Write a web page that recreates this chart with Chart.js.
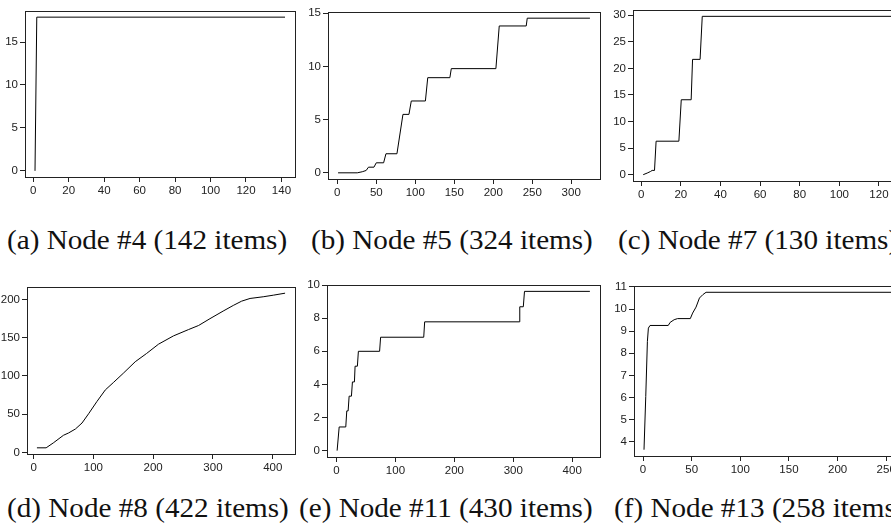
<!DOCTYPE html>
<html>
<head>
<meta charset="utf-8">
<script src="https://cdn.jsdelivr.net/npm/chart.js@4/dist/chart.umd.min.js"></script>
<style>
  html, body { margin: 0; padding: 0; background: #fff; }
  body { width: 891px; height: 525px; overflow: hidden; position: relative; }
  canvas { position: absolute; }
  .cap { position: absolute; font-family: 'Liberation Serif', 'Times New Roman', serif; font-size: 27px; line-height: 27px; color: #111; white-space: nowrap; transform: scaleX(1.08); transform-origin: 0 50%; }
</style>
</head>
<body>
<div class="cap" style="left:7px; top:227px">(a) Node #4 (142 items)</div>
<div class="cap" style="left:311px; top:227px">(b) Node #5 (324 items)</div>
<div class="cap" style="left:618px; top:227px">(c) Node #7 (130 items)</div>
<div class="cap" style="left:7px; top:495px">(d) Node #8 (422 items)</div>
<div class="cap" style="left:299px; top:495px">(e) Node #11 (430 items)</div>
<div class="cap" style="left:614px; top:495px">(f) Node #13 (258 items)</div>
<script>
// (a) Node #4
const aX = [1, 2, 142];
const aY = [0, 17.9, 17.9];

// (b) Node #5
const bX = [1, 25.6, 32, 37, 40, 47, 50, 59.4, 62.4, 76.5, 84.2, 91.9, 94.9, 113, 116, 144.4, 146.2, 203.4, 207.7, 242.3, 243.6, 324];
const bY = [0, 0, 0.1, 0.22, 0.53, 0.53, 0.94, 0.94, 1.79, 1.79, 5.49, 5.49, 6.75, 6.75, 8.94, 8.94, 9.79, 9.79, 13.8, 13.8, 14.53, 14.53];

// (c) Node #7
const cX = [1, 3, 4.7, 5.5, 6.7, 7.5, 19, 20.2, 25.2, 25.9, 29.7, 30.8, 130];
const cY = [0, 0.3, 0.6, 0.8, 0.8, 6.3, 6.3, 14.1, 14.1, 21.7, 21.7, 29.8, 29.8];

// (d) Node #8
const dX = [5.6, 21, 33, 50, 58.5, 70, 81, 92, 106, 120, 134, 150, 170, 189, 209, 234, 259, 276, 295, 317, 334, 348, 362, 384, 401, 420.6];
const dY = [6.1, 6.1, 12.5, 22.5, 25.5, 30.7, 38.5, 50.6, 66.7, 81.8, 91.8, 103.5, 118.6, 129.4, 141.6, 152.4, 160.6, 166, 174.9, 184.8, 192.2, 197.8, 201.3, 203.5, 205.6, 208.2];

// (e) Node #11
const eX = [1, 4.5, 15.7, 17.4, 19.7, 21.4, 25.3, 27, 30.4, 31.5, 35.4, 37.1, 73.1, 74.8, 148, 149.6, 310, 311, 317, 319, 430];
const eY = [0, 1.43, 1.43, 2.4, 2.4, 3.29, 3.29, 4.15, 4.15, 5.1, 5.1, 6.0, 6.0, 6.85, 6.85, 7.78, 7.78, 8.69, 8.69, 9.62, 9.62];

// (f) Node #13
const fX = [1, 2.8, 4.5, 5.5, 7.2, 25.9, 27.9, 32, 35.5, 48.6, 51, 54.5, 58, 61.4, 64.8, 258];
const fY = [3.64, 6.05, 8.54, 9.14, 9.26, 9.26, 9.4, 9.52, 9.57, 9.57, 9.82, 10.09, 10.5, 10.65, 10.76, 10.76];

const ink = '#222';
const tickFont = { family: "'Liberation Sans', Arial, sans-serif", size: 11.5 };

// R-style box around the plot region
const boxPlugin = {
    id: 'box',
    afterDraw(chart) {
        const a = chart.chartArea;
        const ctx = chart.ctx;
        ctx.save();
        ctx.strokeStyle = ink;
        ctx.lineWidth = 1;
        ctx.strokeRect(Math.round(a.left) + 0.5, Math.round(a.top) + 0.5,
                       Math.round(a.right - a.left), Math.round(a.bottom - a.top));
        ctx.restore();
    }
};

// padded range like R (4% each side)
function range(vals) {
    const lo = Math.min(...vals), hi = Math.max(...vals);
    const pad = (hi - lo) * 0.04;
    return [lo - pad, hi + pad];
}

const YW = 40, XH = 30, PT = 8, PR = 10;

function panel(box, xs, ys, xStep, yStep) {
    const [L, T, R, B] = box;
    const canvas = document.createElement('canvas');
    canvas.width = (R - L) + YW + PR;
    canvas.height = (B - T) + PT + XH;
    canvas.style.left = (L - YW) + 'px';
    canvas.style.top = (T - PT) + 'px';
    document.body.appendChild(canvas);

    const [xmin, xmax] = range(xs);
    const [ymin, ymax] = range(ys);

    const axis = (step, lo, hi) => ({
        type: 'linear',
        min: lo,
        max: hi,
        border: { display: false },
        grid: { drawOnChartArea: false, drawTicks: true, tickLength: 5, color: ink, lineWidth: 1 },
        ticks: { autoSkip: false, maxRotation: 0, padding: 2, color: ink, font: tickFont },
        // only the round values inside the range, like R's pretty()
        afterBuildTicks: s => {
            const t = [];
            for (let v = Math.ceil(lo / step) * step; v <= hi; v += step) t.push({ value: v });
            s.ticks = t;
        }
    });

    const xAxis = axis(xStep, xmin, xmax);
    xAxis.afterFit = s => { s.height = XH; s.paddingLeft = 0; s.paddingRight = 0; };
    const yAxis = axis(yStep, ymin, ymax);
    yAxis.afterFit = s => { s.width = YW; s.paddingTop = 0; s.paddingBottom = 0; };

    return new Chart(canvas, {
        type: 'line',
        data: {
            datasets: [{
                data: xs.map((x, i) => ({ x: x, y: ys[i] })),
                borderColor: '#000',
                borderWidth: 1,
                pointRadius: 0,
                tension: 0,
                fill: false
            }]
        },
        options: {
            responsive: false,
            animation: false,
            events: [],
            layout: { padding: { left: 0, top: PT, right: PR, bottom: 0 } },
            plugins: { legend: { display: false }, tooltip: { enabled: false } },
            scales: { x: xAxis, y: yAxis }
        },
        plugins: [boxPlugin]
    });
}

panel([25, 11, 295, 177], aX, aY, 20, 5);
panel([328, 12, 600, 179], bX, bY, 50, 5);
panel([633, 10, 909, 181], cX, cY, 20, 5);
panel([27, 287, 295, 454], dX, dY, 100, 50);
panel([327, 285, 600, 457], eX, eY, 100, 2);
panel([634, 286, 904, 456], fX, fY, 50, 1);
</script>
</body>
</html>
